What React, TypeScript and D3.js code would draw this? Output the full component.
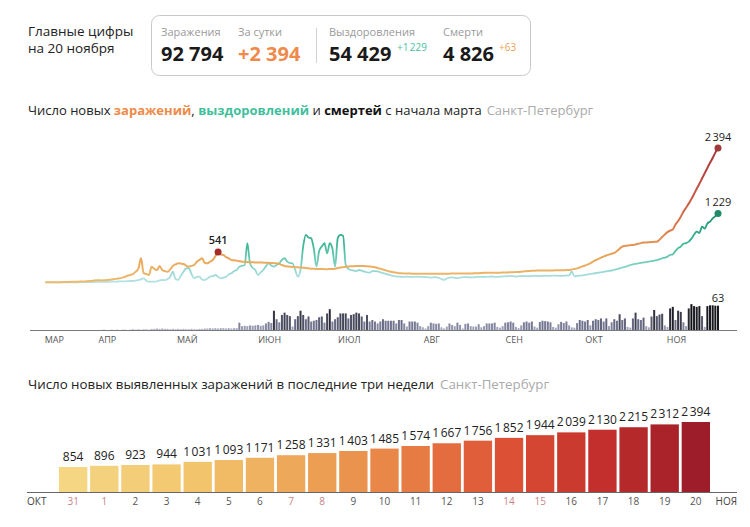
import React from "react";
import * as d3 from "d3";

const W = 750;
const H = 527;
const FONT = "'Open Sans', 'Noto Sans', sans-serif";

// ---------- header data ----------
const summaryTitle = ["Главные цифры", "на 20 ноября"];
const summaryLabels = ["Заражения", "За сутки", "Выздоровления", "Смерти"];
const totalCases = 92794;
const newCases = 2394;
const totalRecovered = 54429;
const newRecovered = 1229;
const totalDeaths = 4826;
const newDeaths = 63;

// ---------- long chart data (daily, from 12 March to 20 November 2020) ----------
const monthLabels = ["МАР", "АПР", "МАЙ", "ИЮН", "ИЮЛ", "АВГ", "СЕН", "ОКТ", "НОЯ"];
const monthFirstDay = [12, 1, 1, 1, 1, 1, 1, 1, 1];

// last three weeks (31 Oct – 20 Nov)
const recentDays = [31, 1, 2, 3, 4, 5, 6, 7, 8, 9, 10, 11, 12, 13, 14, 15, 16, 17, 18, 19, 20];
const recentCases = [854, 896, 923, 944, 1031, 1093, 1171, 1258, 1331, 1403, 1485, 1574, 1667, 1756, 1852, 1944, 2039, 2130, 2215, 2312, 2394];

const casesMar = [1, 1, 2, 2, 3, 3, 4, 5, 6, 8, 10, 10, 12, 14, 15, 18, 20, 25, 30, 38];
const casesApr = [40, 35, 38, 42, 45, 50, 60, 65, 73, 85, 100, 120, 132, 150, 190, 240, 430, 165, 150, 132, 280, 240, 221, 292, 221, 200, 190, 233, 292, 320];
const casesMay = [340, 335, 328, 300, 280, 295, 310, 369, 400, 430, 346, 340, 370, 399, 470, 541, 500, 488, 450, 430, 399, 395, 388, 378, 369, 365, 362, 360, 358, 356, 355];
const casesJun = [354, 352, 350, 348, 345, 342, 340, 330, 310, 292, 285, 280, 275, 270, 268, 265, 262, 258, 252, 245, 242, 240, 238, 238, 236, 236, 238, 240, 245, 255];
const casesJul = [265, 272, 278, 283, 286, 288, 290, 292, 292, 290, 288, 285, 280, 270, 258, 245, 230, 215, 200, 190, 180, 172, 165, 162, 160, 158, 158, 156, 155, 155, 155];
const casesAug = [155, 154, 153, 152, 152, 153, 154, 155, 155, 156, 156, 157, 157, 158, 158, 158, 159, 160, 160, 161, 162, 164, 168, 172, 173, 172, 171, 172, 173, 174, 175];
const casesSep = [176, 178, 180, 182, 184, 186, 190, 195, 200, 203, 206, 209, 210, 210, 211, 212, 212, 213, 214, 215, 216, 217, 218, 219, 221, 230, 240, 250, 265, 285];
const casesOct = [300, 320, 340, 370, 395, 420, 440, 460, 480, 495, 510, 525, 560, 600, 637, 650, 658, 663, 667, 675, 688, 700, 709, 712, 715, 718, 722, 726, 760, 810, 854];
const casesNov = [896, 923, 944, 1031, 1093, 1171, 1258, 1331, 1403, 1485, 1574, 1667, 1756, 1852, 1944, 2039, 2130, 2215, 2312, 2394];

const recMar = [0, 0, 0, 0, 0, 0, 0, 1, 1, 1, 2, 2, 3, 3, 4, 4, 5, 5, 6, 8];
const recApr = [8, 10, 10, 12, 12, 14, 15, 15, 18, 20, 20, 22, 25, 25, 30, 40, 55, 73, 30, 12, 15, 12, 20, 35, 43, 40, 60, 102, 190, 60];
const recMay = [43, 120, 190, 250, 255, 150, 73, 100, 102, 50, 43, 70, 102, 110, 132, 100, 73, 85, 102, 140, 162, 200, 221, 280, 295, 310, 697, 340, 260, 221, 132];
const recJun = [180, 221, 290, 340, 300, 280, 310, 340, 400, 430, 370, 345, 340, 221, 102, 221, 640, 845, 800, 786, 600, 280, 560, 640, 697, 518, 697, 600, 280, 790];
const recJul = [845, 830, 310, 240, 221, 210, 200, 221, 210, 190, 180, 175, 200, 200, 195, 180, 165, 150, 140, 125, 115, 105, 102, 100, 98, 102, 100, 95, 100, 102, 98];
const recAug = [100, 95, 90, 85, 90, 92, 80, 60, 45, 70, 85, 90, 80, 75, 85, 90, 95, 92, 88, 90, 95, 100, 98, 95, 100, 102, 105, 100, 98, 102, 105];
const recSep = [108, 110, 112, 110, 105, 108, 112, 115, 112, 110, 115, 118, 115, 112, 118, 120, 115, 118, 120, 122, 118, 115, 120, 122, 125, 190, 110, 115, 120, 125];
const recOct = [135, 142, 150, 158, 165, 172, 180, 188, 196, 204, 212, 221, 235, 250, 262, 275, 290, 310, 320, 330, 340, 348, 355, 362, 369, 378, 388, 398, 410, 430, 440];
const recNov = [460, 488, 500, 560, 610, 637, 690, 700, 726, 780, 850, 904, 880, 993, 960, 1050, 1082, 1140, 1180, 1229];

const deathsMar = [0, 0, 0, 0, 0, 0, 0, 0, 0, 0, 0, 0, 0, 0, 0, 0, 0, 0, 0, 0];
const deathsApr = [0, 0, 1, 0, 0, 1, 0, 1, 0, 1, 1, 0, 1, 2, 1, 2, 1, 2, 2, 1, 3, 3, 4, 3, 4, 3, 3, 2, 3, 2];
const deathsMay = [3, 2, 3, 2, 2, 3, 2, 2, 3, 3, 4, 4, 5, 4, 5, 4, 5, 5, 4, 5, 4, 5, 5, 19, 10, 11, 10, 12, 11, 12, 13];
const deathsJun = [11, 12, 17, 21, 18, 50, 28, 20, 39, 45, 39, 36, 9, 28, 36, 50, 39, 28, 35, 22, 24, 26, 33, 35, 19, 43, 54, 22, 28, 33];
const deathsJul = [43, 43, 43, 30, 39, 41, 45, 43, 35, 22, 39, 22, 26, 22, 17, 22, 28, 24, 24, 24, 24, 17, 26, 26, 17, 9, 22, 22, 22, 19, 10];
const deathsAug = [7, 4, 10, 19, 17, 16, 17, 7, 4, 9, 17, 13, 10, 19, 13, 4, 16, 17, 10, 9, 9, 15, 7, 10, 17, 17, 17, 19, 8, 6, 10];
const deathsSep = [19, 20, 22, 19, 8, 5, 12, 20, 22, 19, 22, 9, 6, 21, 24, 23, 22, 20, 8, 6, 15, 21, 18, 22, 12, 7, 6, 18, 26, 24];
const deathsOct = [22, 26, 12, 24, 28, 26, 30, 22, 30, 10, 20, 28, 24, 41, 26, 30, 8, 6, 30, 45, 28, 26, 32, 10, 7, 35, 52, 36, 40, 42, 12];
const deathsNov = [8, 56, 60, 26, 50, 47, 20, 10, 56, 67, 62, 60, 62, 36, 8, 62, 64, 64, 63, 63];

const casesByMonth = [casesMar, casesApr, casesMay, casesJun, casesJul, casesAug, casesSep, casesOct, casesNov];
const recByMonth = [recMar, recApr, recMay, recJun, recJul, recAug, recSep, recOct, recNov];
const deathsByMonth = [deathsMar, deathsApr, deathsMay, deathsJun, deathsJul, deathsAug, deathsSep, deathsOct, deathsNov];

type Pt = { date: Date; v: number };
function toSeries(byMonth: number[][]): Pt[] {
  return byMonth.flatMap((arr, m) =>
    arr.map((v, i) => ({ date: new Date(2020, 2 + m, monthFirstDay[m] + i), v }))
  );
}

const fmtHeader = d3.formatLocale({ decimal: ",", thousands: "\u00a0", grouping: [3], currency: ["", ""] }).format(",d");
const fmtSmall = d3.formatLocale({ decimal: ",", thousands: "\u202f", grouping: [3], currency: ["", ""] }).format(",d");

export default function App() {
  const cases = toSeries(casesByMonth);
  const rec = toSeries(recByMonth);
  const deaths = toSeries(deathsByMonth);
  const start = cases[0].date;
  const end = cases[cases.length - 1].date;

  // ---- long chart scales ----
  const x = d3.scaleTime().domain([new Date(2020, 2, 1), end]).range([16, 718]);
  const yMax = d3.max(cases, (d) => d.v) as number;
  const y = d3.scaleLinear().domain([0, yMax]).range([282.4, 148]);
  const yd = d3.scaleLinear().domain([0, 63]).range([330, 305.7]);

  const line = d3
    .line<Pt>()
    .x((d) => x(d.date))
    .y((d) => y(d.v))
    .curve(d3.curveMonotoneX);

  const deathColor = d3.scaleLinear<string>().domain([0, 25, 60]).range(["#b9bbd1", "#6f718c", "#1f1f28"]);

  const orangeStops: [number, string][] = [
    [0, "#edbb6e"],
    [400, "#e9a95c"],
    [800, "#e0894e"],
    [1400, "#cc5f48"],
    [2000, "#b4443f"],
    [2394, "#a3353a"],
  ];
  const tealStops: [number, string][] = [
    [0, "#b4e3e4"],
    [150, "#a2dbda"],
    [400, "#6ccab6"],
    [700, "#3db796"],
    [1000, "#27a07f"],
    [1229, "#1d8b6a"],
  ];

  // peak of spring wave (before July)
  const springIdx = cases.findIndex((d) => d.date >= new Date(2020, 6, 1));
  const peakIdx = d3.maxIndex(cases.slice(0, springIdx), (d) => d.v);
  const peak = cases[peakIdx];
  const lastCase = cases[cases.length - 1];
  const lastRec = rec[rec.length - 1];
  const lastDeath = deaths[deaths.length - 1];

  const months = monthLabels.map((lab, i) => {
    const ms = new Date(2020, 2 + i, 1);
    const d = ms < start ? start : ms;
    return { lab, x: x(d) + 9 };
  });

  // ---- bar chart scales ----
  const band = d3
    .scaleBand<number>()
    .domain(recentDays.map((_, i) => i))
    .range([59, 710])
    .paddingInner(0.09)
    .paddingOuter(0);
  const by = d3.scaleLinear().domain([0, d3.max(recentCases) as number]).range([492, 422]);
  const barColor = d3
    .scaleLinear<string>()
    .domain([0, 4, 8, 11, 14, 17, 20])
    .range(["#f5d683", "#f2c46c", "#ec9f53", "#e77b44", "#dc5135", "#c32f2c", "#9d1d2a"]);

  const dayDate = (i: number) => new Date(2020, i === 0 ? 9 : 10, recentDays[i]);

  return (
    <svg
      width={W}
      height={H}
      style={{ position: "absolute", left: 0, top: 0, background: "#fff" }}
      fontFamily={FONT}
    >
      <defs>
        <linearGradient id="gOrange" gradientUnits="userSpaceOnUse" x1={0} x2={0} y1={y(0)} y2={y(yMax)}>
          {orangeStops.map(([v, c], i) => (
            <stop key={i} offset={v / yMax} stopColor={c} />
          ))}
        </linearGradient>
        <linearGradient id="gTeal" gradientUnits="userSpaceOnUse" x1={0} x2={0} y1={y(0)} y2={y(newRecovered)}>
          {tealStops.map(([v, c], i) => (
            <stop key={i} offset={v / newRecovered} stopColor={c} />
          ))}
        </linearGradient>
      </defs>

      {/* ---------- header ---------- */}
      <text x={28} y={36} fontSize={13.5} fill="#222">
        {summaryTitle[0]}
      </text>
      <text x={28} y={53} fontSize={13.5} fill="#222">
        {summaryTitle[1]}
      </text>
      <rect x={151.5} y={15.5} width={379} height={60} rx={8} fill="none" stroke="#c9c9c9" />
      <line x1={316.5} x2={316.5} y1={28} y2={63} stroke="#d0d0d0" />
      {summaryLabels.map((s, i) => (
        <text key={s} x={[161, 238, 329, 443][i]} y={36} fontSize={11} fill="#9a9a9a">
          {s}
        </text>
      ))}
      <text x={161} y={61} fontSize={20} fontWeight={700} fill="#1a1a1a">
        {fmtHeader(totalCases)}
      </text>
      <text x={238} y={61} fontSize={20} fontWeight={700} fill="#ef8a4c">
        {"+" + fmtHeader(newCases)}
      </text>
      <text x={329} y={61} fontSize={20} fontWeight={700} fill="#1a1a1a">
        {fmtHeader(totalRecovered)}
      </text>
      <text x={397} y={51} fontSize={10} fill="#4dbf9f">
        {"+" + fmtSmall(newRecovered)}
      </text>
      <text x={443} y={61} fontSize={20} fontWeight={700} fill="#1a1a1a">
        {fmtHeader(totalDeaths)}
      </text>
      <text x={499} y={51} fontSize={10} fill="#f0a058">
        {"+" + fmtSmall(newDeaths)}
      </text>

      {/* ---------- long chart ---------- */}
      <text x={28} y={115} fontSize={13} fill="#222">
        Число новых{" "}
        <tspan fill="#ee8a48" fontWeight={700}>
          заражений
        </tspan>
        ,{" "}
        <tspan fill="#3fbf9c" fontWeight={700}>
          выздоровлений
        </tspan>{" "}
        и{" "}
        <tspan fontWeight={700} fill="#111">
          смертей
        </tspan>{" "}
        с начала марта
        <tspan dx={5} fill="#aaa">
          Санкт-Петербург
        </tspan>
      </text>

      {deaths.map((d, i) =>
        d.v > 0 ? (
          <rect
            key={i}
            x={x(d.date) - 1}
            width={2}
            y={yd(d.v)}
            height={yd(0) - yd(d.v)}
            fill={deathColor(d.v)}
          />
        ) : null
      )}
      <line x1={30} x2={737} y1={330.5} y2={330.5} stroke="#7a7a7a" />
      {months.map((m) => (
        <text key={m.lab} x={m.x} y={343} fontSize={9} fill="#555" textAnchor="middle">
          {m.lab}
        </text>
      ))}
      <text x={x(lastDeath.date)} y={yd(lastDeath.v) - 4} fontSize={11} fill="#222" textAnchor="middle">
        {lastDeath.v}
      </text>

      <path d={line(rec) || ""} fill="none" stroke="url(#gTeal)" strokeWidth={1.8} strokeLinejoin="round" />
      <path d={line(cases) || ""} fill="none" stroke="url(#gOrange)" strokeWidth={2} strokeLinejoin="round" />

      <circle cx={x(peak.date)} cy={y(peak.v)} r={3.5} fill="#a52a2a" />
      <text x={x(peak.date)} y={y(peak.v) - 8} fontSize={11} fontWeight={600} fill="#222" textAnchor="middle">
        {fmtSmall(peak.v)}
      </text>
      <circle cx={x(lastCase.date)} cy={y(lastCase.v)} r={3.5} fill="#9e3a3a" />
      <text x={x(lastCase.date)} y={y(lastCase.v) - 7} fontSize={11} fill="#222" textAnchor="middle">
        {fmtSmall(lastCase.v)}
      </text>
      <circle cx={x(lastRec.date)} cy={y(lastRec.v)} r={3.5} fill="#1f8a68" />
      <text x={x(lastRec.date)} y={y(lastRec.v) - 7} fontSize={11} fill="#222" textAnchor="middle">
        {fmtSmall(lastRec.v)}
      </text>

      {/* ---------- bar chart ---------- */}
      <text x={28} y={389} fontSize={13.3} fill="#222">
        Число новых выявленных заражений в последние три недели
        <tspan dx={6} fill="#aaa">
          Санкт-Петербург
        </tspan>
      </text>
      {recentCases.map((v, i) => (
        <g key={i}>
          <rect x={band(i)} width={band.bandwidth()} y={by(v)} height={by(0) - by(v)} fill={barColor(i)} />
          <text
            x={(band(i) as number) + band.bandwidth() / 2}
            y={by(v) - 6}
            fontSize={12}
            fill="#222"
            textAnchor="middle"
          >
            {fmtSmall(v)}
          </text>
          <text
            x={(band(i) as number) + band.bandwidth() / 2}
            y={505}
            fontSize={10}
            fill={[0, 6].includes(dayDate(i).getDay()) ? "#c98585" : "#555"}
            textAnchor="middle"
          >
            {recentDays[i]}
          </text>
        </g>
      ))}
      <line x1={27} x2={737} y1={492.5} y2={492.5} stroke="#666" />
      <text x={27} y={505} fontSize={10} fill="#444">
        ОКТ
      </text>
      <text x={737} y={505} fontSize={10} fill="#444" textAnchor="end">
        НОЯ
      </text>
    </svg>
  );
}
